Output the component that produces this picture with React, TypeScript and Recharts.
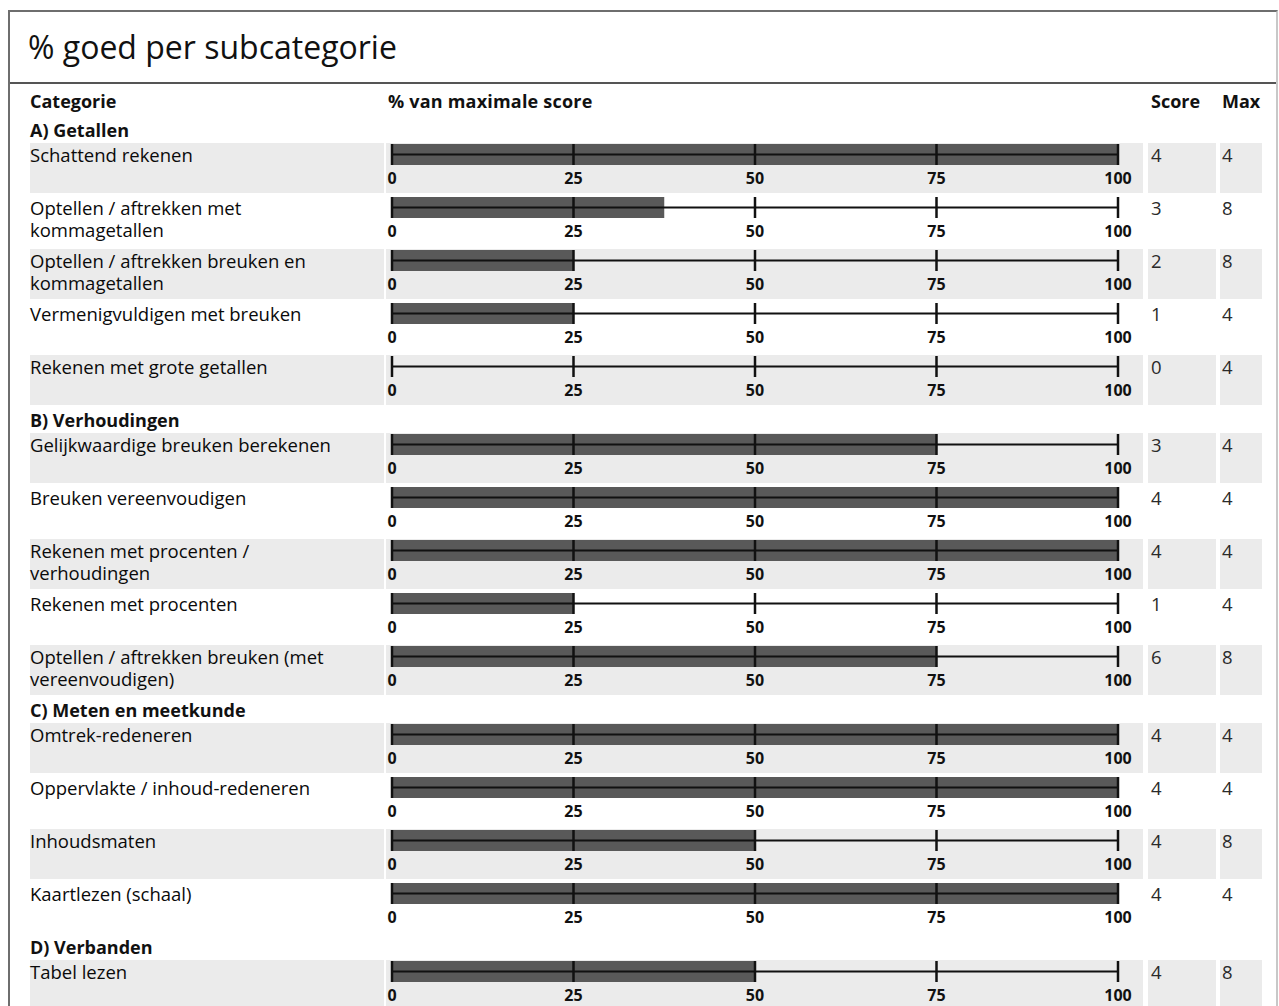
import React from 'react';
import { BarChart, Bar, XAxis, YAxis, ReferenceLine } from 'recharts';

const FONT = '"Open Sans", "Noto Sans", sans-serif';

const groups = ['A) Getallen', 'B) Verhoudingen', 'C) Meten en meetkunde', 'D) Verbanden'];
const subcategories = [
  'Schattend rekenen',
  'Optellen / aftrekken met\nkommagetallen',
  'Optellen / aftrekken breuken en\nkommagetallen',
  'Vermenigvuldigen met breuken',
  'Rekenen met grote getallen',
  'Gelijkwaardige breuken berekenen',
  'Breuken vereenvoudigen',
  'Rekenen met procenten /\nverhoudingen',
  'Rekenen met procenten',
  'Optellen / aftrekken breuken (met\nvereenvoudigen)',
  'Omtrek-redeneren',
  'Oppervlakte / inhoud-redeneren',
  'Inhoudsmaten',
  'Kaartlezen (schaal)',
  'Tabel lezen',
];
const subGroup = [0, 0, 0, 0, 0, 1, 1, 1, 1, 1, 2, 2, 2, 2, 3];
const scores = [4, 3, 2, 1, 0, 3, 4, 4, 1, 6, 4, 4, 4, 4, 4];
const maxScores = [4, 8, 8, 4, 4, 4, 4, 4, 4, 8, 4, 4, 8, 4, 8];
const axisTicks = [0, 25, 50, 75, 100];

const GREY = '#ebebeb';

function RowChart({ label, pct }: { label: string; pct: number }) {
  const data = [{ name: label, pct }];
  return (
    <BarChart
      width={757}
      height={50}
      data={data}
      layout="vertical"
      margin={{ top: 1, right: 25, bottom: 0, left: 6 }}
      barCategoryGap={0}
    >
      <XAxis
        type="number"
        domain={[0, 100]}
        ticks={axisTicks}
        interval={0}
        axisLine={false}
        tickLine={false}
        tickSize={0}
        tickMargin={8}
        height={28}
        tick={{ fontSize: 16, fontWeight: 700, fill: '#111', fontFamily: FONT }}
      />
      <YAxis type="category" dataKey="name" hide />
      <Bar dataKey="pct" fill="#595959" isAnimationActive={false} />
      <ReferenceLine y={label} stroke="#111" strokeWidth={2} />
      {axisTicks.map((t) => (
        <ReferenceLine key={t} x={t} stroke="#111" strokeWidth={2.5} />
      ))}
    </BarChart>
  );
}

export default function App() {
  const rows: React.ReactNode[] = [];
  groups.forEach((g, gi) => {
    rows.push(
      <div key={'g' + gi} style={{ height: 25, lineHeight: '25px', fontWeight: 700, fontSize: 18 }}>
        {g}
      </div>
    );
    let k = 0;
    subcategories.forEach((s, i) => {
      if (subGroup[i] !== gi) return;
      const bg = k % 2 === 0 ? GREY : '#fff';
      k++;
      const cellText = { fontSize: 18.5, lineHeight: '22px', paddingTop: 1, boxSizing: 'border-box' as const, color: '#0a0a0a' };
      rows.push(
        <div key={'r' + i} style={{ display: 'flex', height: 50, marginBottom: 3 }}>
          <div style={{ ...cellText, width: 354, background: bg, whiteSpace: 'pre-line' }}>
            {s}
          </div>
          <div style={{ width: 757, marginLeft: 2, background: bg }}>
            <RowChart label={s} pct={(scores[i] / maxScores[i]) * 100} />
          </div>
          <div style={{ ...cellText, width: 68, marginLeft: 5, background: bg, paddingLeft: 3, color: '#2a2a2a' }}>
            {scores[i]}
          </div>
          <div style={{ ...cellText, width: 42, marginLeft: 4, background: bg, paddingLeft: 2, color: '#2a2a2a' }}>
            {maxScores[i]}
          </div>
        </div>
      );
    });
  });

  return (
    <div style={{ position: 'fixed', left: 0, top: 0, width: 1279, height: 1006, overflow: 'hidden', background: '#fff', fontFamily: FONT, color: '#111' }}>
      <div style={{ position: 'absolute', left: 8, top: 10, width: 1270, height: 1100, border: '2px solid #6e6e6e', borderRight: '2px solid #c8c8c8', boxSizing: 'border-box' }}>
        <div style={{ height: 70, lineHeight: '70px', paddingLeft: 18, fontSize: 32, borderBottom: '2px solid #555', color: '#111' }}>
          % goed per subcategorie
        </div>
        <div style={{ paddingLeft: 20 }}>
          <div style={{ display: 'flex', height: 34, lineHeight: '34px', fontWeight: 700, fontSize: 18 }}>
            <div style={{ width: 358 }}>Categorie</div>
            <div style={{ width: 763, letterSpacing: 0.2 }}>% van maximale score</div>
            <div style={{ width: 71 }}>Score</div>
            <div>Max</div>
          </div>
          {rows}
        </div>
      </div>
    </div>
  );
}
